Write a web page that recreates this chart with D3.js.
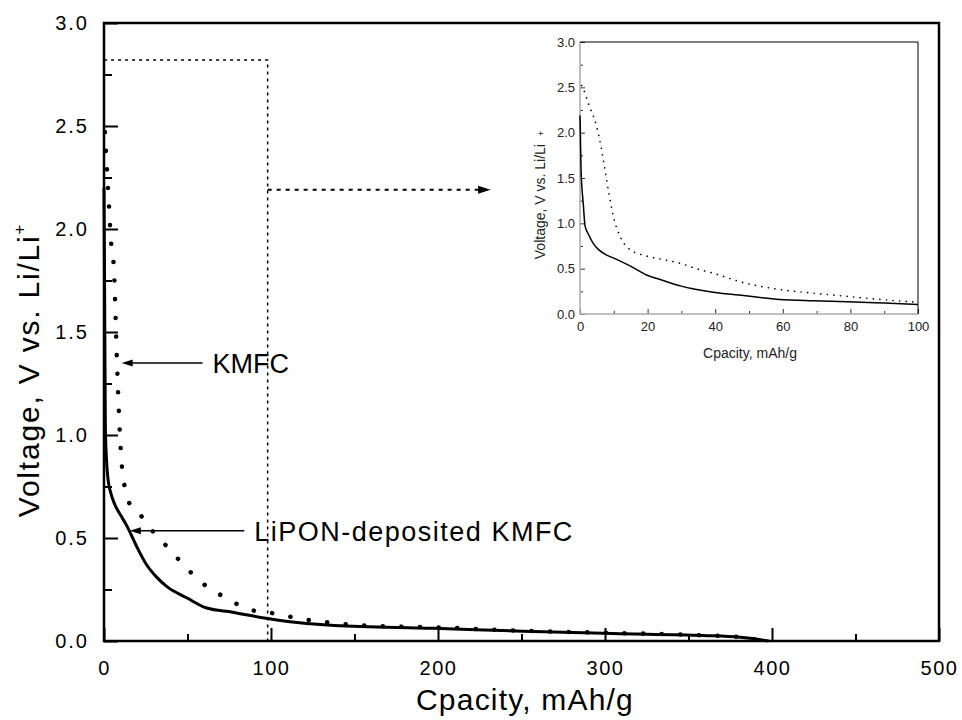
<!DOCTYPE html>
<html>
<head>
<meta charset="utf-8">
<script src="https://cdn.jsdelivr.net/npm/d3@7"></script>
<style>
  body { margin: 0; background: #fff; }
  text { font-family: "Liberation Sans", Arial, Helvetica, sans-serif; }
</style>
</head>
<body>
<svg id="chart" width="962" height="720"></svg>
<script>
// main plot, KMFC (dotted)
var kmfcCap = [0.6, 1.2, 1.8, 2.4, 3, 4.2, 5.6, 6.6, 7.2, 7.8, 9.2, 10.6, 12.6, 14.5, 20, 29.5, 37.5, 46.5, 57.5, 68.5, 79.5, 90.4, 101, 112, 124, 135, 146, 157, 200, 250, 300, 350, 380, 395]
var kmfcVolt = [2.47, 2.37, 2.29, 2.2, 2.11, 1.94, 1.85, 1.67, 1.5, 1.35, 1.06, 0.86, 0.74, 0.68, 0.63, 0.53, 0.46, 0.38, 0.29, 0.23, 0.18, 0.146, 0.135, 0.117, 0.1, 0.09, 0.08, 0.075, 0.066, 0.05, 0.04, 0.03, 0.02, 0.0]
// main plot, LiPON-deposited KMFC (solid)
var liponCap = [0, 0.5, 0.8, 1.5, 2.5, 4, 6.6, 10, 13.6, 19.5, 25.5, 31.5, 37.5, 49.5, 61.5, 77, 97, 110, 138, 197, 251, 305, 359, 381, 395, 398]
var liponVolt = [2.2, 1.5, 1.05, 0.88, 0.78, 0.72, 0.66, 0.61, 0.56, 0.46, 0.37, 0.31, 0.265, 0.21, 0.16, 0.14, 0.11, 0.095, 0.075, 0.062, 0.047, 0.036, 0.027, 0.018, 0.004, 0]

// inset (0-100 mAh/g)
var insetKmfcCap = [0.5, 1, 2.5, 4.9, 6.2, 7.4, 8.6, 9.85, 11.8, 14.8, 19.7, 24.6, 29.6, 34.5, 39.4, 49, 59, 69, 79, 89, 100]
var insetKmfcVolt = [2.52, 2.48, 2.32, 2.07, 1.85, 1.59, 1.32, 1.08, 0.86, 0.71, 0.64, 0.6, 0.56, 0.5, 0.45, 0.34, 0.27, 0.23, 0.195, 0.16, 0.13]
var insetLiponCap = [0, 0.3, 1, 1.5, 2.5, 3.9, 5.5, 7.9, 11, 14.8, 19.7, 24.6, 29.6, 34.5, 39.4, 49, 59, 69, 79, 90, 100]
var insetLiponVolt = [2.19, 1.6, 1.2, 0.97, 0.88, 0.78, 0.71, 0.65, 0.6, 0.53, 0.43, 0.37, 0.31, 0.27, 0.24, 0.2, 0.16, 0.145, 0.135, 0.12, 0.105]

var xMajor = [0, 100, 200, 300, 400, 500]
var xMinor = [50, 150, 250, 350, 450]
var yMajor = [0, 0.5, 1.0, 1.5, 2.0, 2.5, 3.0]
var yMinor = [0.25, 0.75, 1.25, 1.75, 2.25, 2.75]
var insetXMajor = [0, 20, 40, 60, 80, 100]
var insetXMinor = [10, 30, 50, 70, 90]

var svg = d3.select('#chart')

var x = d3.scaleLinear().domain([0, 500]).range([104, 939])
var y = d3.scaleLinear().domain([0, 3]).range([641, 23])

var zip = function(a, b) {
  return a.map(function(d, i) { return [d, b[i]] })
}

// ticks (inward)
var axisStyle = function(g, w) {
  g.select('.domain').remove()
  g.selectAll('line').attr('stroke', '#000').attr('stroke-width', w)
}
svg.append('g').attr('transform', 'translate(0,' + y(0) + ')')
  .call(d3.axisBottom(x).tickValues(xMinor).tickSize(-7).tickFormat(''))
  .call(axisStyle, 2)
svg.append('g').attr('transform', 'translate(0,' + y(0) + ')')
  .call(d3.axisBottom(x).tickValues(xMajor).tickSize(-13).tickPadding(20).tickFormat(d3.format('d')))
  .call(axisStyle, 2)
  .selectAll('text').attr('font-size', 20).attr('letter-spacing', 1.5).attr('fill', '#000')
svg.append('g').attr('transform', 'translate(' + x(0) + ',0)')
  .call(d3.axisLeft(y).tickValues(yMinor).tickSize(-8).tickFormat(''))
  .call(axisStyle, 2)
svg.append('g').attr('transform', 'translate(' + x(0) + ',0)')
  .call(d3.axisLeft(y).tickValues(yMajor).tickSize(-14).tickPadding(15).tickFormat(d3.format('.1f')))
  .call(axisStyle, 2)
  .selectAll('text').attr('font-size', 20).attr('letter-spacing', 2).attr('fill', '#000')

// dotted zoom box and arrow
svg.append('path')
  .attr('d', d3.line()([[x(0), y(0)], [x(0), y(2.82)], [x(98), y(2.82)], [x(98), y(0)]]))
  .attr('fill', 'none').attr('stroke', '#000').attr('stroke-width', 1.5)
  .attr('stroke-dasharray', '3 4')
svg.append('line')
  .attr('x1', x(98)).attr('x2', x(228)).attr('y1', y(2.19)).attr('y2', y(2.19))
  .attr('stroke', '#000').attr('stroke-width', 2).attr('stroke-dasharray', '4 5')
svg.append('path')
  .attr('d', d3.line()([[x(231.5), y(2.19)], [x(224), y(2.19) - 4], [x(224), y(2.19) + 4]]) + 'Z')
  .attr('fill', '#000')

// curves
var line = d3.line()
  .x(function(d) { return x(d[0]) })
  .y(function(d) { return y(d[1]) })
  .curve(d3.curveMonotoneX)

svg.append('path')
  .datum(zip(liponCap, liponVolt))
  .attr('d', line)
  .attr('fill', 'none').attr('stroke', '#000').attr('stroke-width', 3)
svg.append('path')
  .datum(zip(kmfcCap, kmfcVolt))
  .attr('d', line)
  .attr('fill', 'none').attr('stroke', '#000').attr('stroke-width', 4.5)
  .attr('stroke-linecap', 'round').attr('stroke-dasharray', '0.1 18.5')

// frame
svg.append('rect')
  .attr('x', x(0)).attr('y', y(3))
  .attr('width', x(500) - x(0)).attr('height', y(0) - y(3))
  .attr('fill', 'none').attr('stroke', '#000').attr('stroke-width', 2.5)

// annotations
var arrow = function(tipV, tipC, tailC, label, spacing) {
  var yy = y(tipV)
  svg.append('line')
    .attr('x1', x(tailC)).attr('x2', x(tipC) + 6).attr('y1', yy).attr('y2', yy)
    .attr('stroke', '#000').attr('stroke-width', 1.5)
  svg.append('path')
    .attr('d', d3.line()([[x(tipC), yy], [x(tipC) + 11, yy - 3.5], [x(tipC) + 11, yy + 3.5]]) + 'Z')
    .attr('fill', '#000')
  svg.append('text')
    .attr('x', x(tailC) + 10).attr('y', yy + 10)
    .attr('font-size', 27).attr('letter-spacing', spacing)
    .text(label)
}
arrow(1.35, 10.6, 59, 'KMFC', 0)
arrow(0.535, 15.5, 84, 'LiPON-deposited KMFC', 1.5)

// axis titles
svg.append('text')
  .attr('x', 525).attr('y', 710)
  .attr('text-anchor', 'middle').attr('font-size', 30).attr('letter-spacing', 1.2)
  .text('Cpacity, mAh/g')
var yt = svg.append('text')
  .attr('transform', 'translate(39,370) rotate(-90)')
  .attr('text-anchor', 'middle').attr('font-size', 30).attr('letter-spacing', 1.8)
yt.append('tspan').text('Voltage, V vs. Li/Li')
yt.append('tspan').attr('dy', -14).attr('font-size', 17).text('+')

// ---- inset ----
var ix = d3.scaleLinear().domain([0, 100]).range([580, 918])
var iy = d3.scaleLinear().domain([0, 3]).range([314, 42])
var inset = svg.append('g')

var insetAxis = function(g) {
  g.select('.domain').remove()
  g.selectAll('line').attr('stroke', '#333').attr('stroke-width', 1)
  g.selectAll('text').attr('font-size', 13).attr('fill', '#222')
}
inset.append('g').attr('transform', 'translate(0,' + iy(0) + ')')
  .call(d3.axisBottom(ix).tickValues(insetXMinor).tickSize(-3).tickFormat(''))
  .call(insetAxis)
inset.append('g').attr('transform', 'translate(0,' + iy(0) + ')')
  .call(d3.axisBottom(ix).tickValues(insetXMajor).tickSize(-5).tickPadding(8).tickFormat(d3.format('d')))
  .call(insetAxis)
inset.append('g').attr('transform', 'translate(' + ix(0) + ',0)')
  .call(d3.axisLeft(iy).tickValues(yMinor).tickSize(-3).tickFormat(''))
  .call(insetAxis)
inset.append('g').attr('transform', 'translate(' + ix(0) + ',0)')
  .call(d3.axisLeft(iy).tickValues(yMajor).tickSize(-5).tickPadding(5).tickFormat(d3.format('.1f')))
  .call(insetAxis)

// inset frame: light left/bottom spines, black top/right
inset.append('path')
  .attr('d', d3.line()([[ix(0), iy(3)], [ix(0), iy(0)], [ix(100), iy(0)]]))
  .attr('fill', 'none').attr('stroke', '#aaa').attr('stroke-width', 1.5)
inset.append('path')
  .attr('d', d3.line()([[ix(0), iy(3)], [ix(100), iy(3)], [ix(100), iy(0)]]))
  .attr('fill', 'none').attr('stroke', '#000').attr('stroke-width', 1)

var iline = d3.line()
  .x(function(d) { return ix(d[0]) })
  .y(function(d) { return iy(d[1]) })
  .curve(d3.curveMonotoneX)
inset.append('path')
  .datum(zip(insetLiponCap, insetLiponVolt))
  .attr('d', iline)
  .attr('fill', 'none').attr('stroke', '#000').attr('stroke-width', 1.5)
inset.append('path')
  .datum(zip(insetKmfcCap, insetKmfcVolt))
  .attr('d', iline)
  .attr('fill', 'none').attr('stroke', '#000').attr('stroke-width', 1.6)
  .attr('stroke-linecap', 'round').attr('stroke-dasharray', '0.1 6.5')

inset.append('text')
  .attr('x', 750).attr('y', 358)
  .attr('text-anchor', 'middle').attr('font-size', 14).attr('fill', '#222')
  .text('Cpacity, mAh/g')
var iyt = inset.append('text')
  .attr('transform', 'translate(545,195) rotate(-90)')
  .attr('text-anchor', 'middle').attr('font-size', 14).attr('fill', '#222')
iyt.append('tspan').text('Voltage, V vs. Li/Li')
iyt.append('tspan').attr('dx', 8).attr('dy', -1).attr('font-size', 9).text('+')
</script>
</body>
</html>
